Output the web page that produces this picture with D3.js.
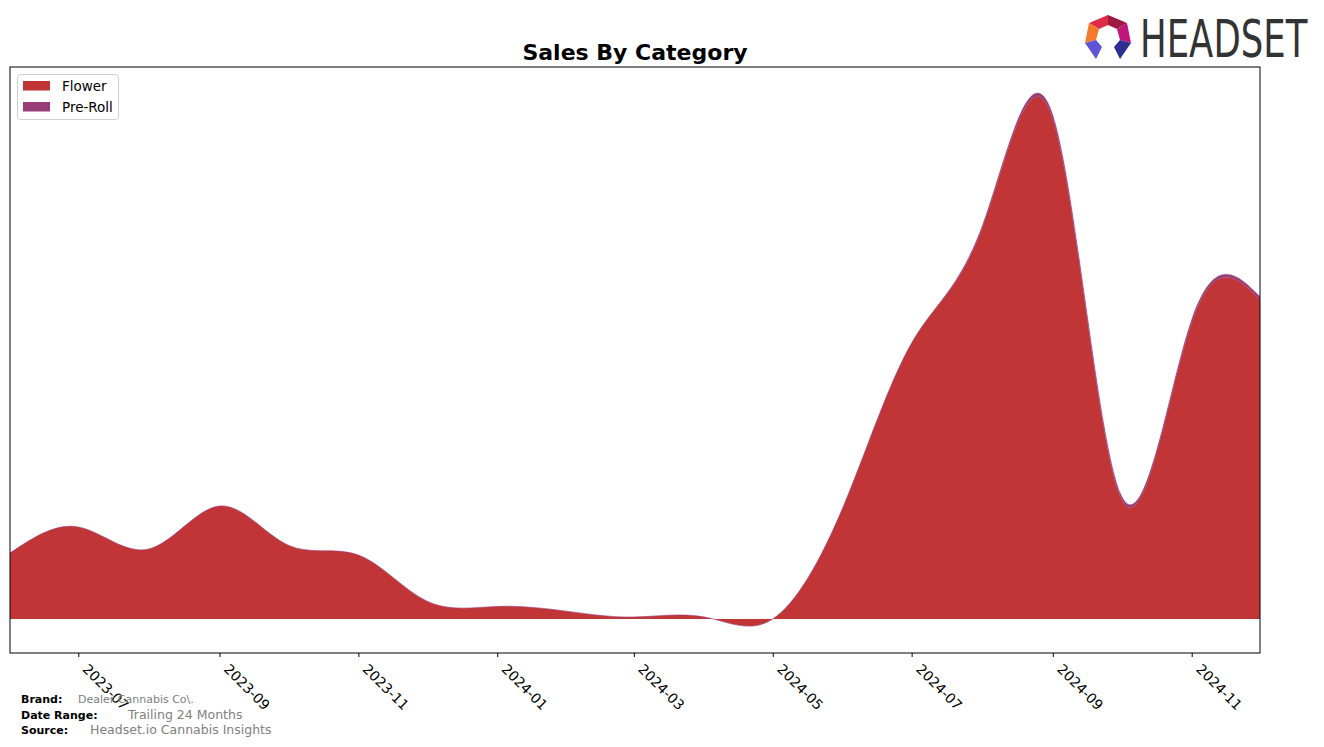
<!DOCTYPE html>
<html>
<head>
<meta charset="utf-8">
<script src="https://cdn.jsdelivr.net/npm/d3@7"></script>
<style>
  body { margin: 0; background: #fff; }
  svg { display: block; font-family: "DejaVu Sans", sans-serif; }
</style>
</head>
<body>
<svg id="chart" width="1324" height="747"></svg>
<script>
// ---- data ----
const months = ["2023-06","2023-07","2023-08","2023-09","2023-10","2023-11","2023-12",
                "2024-01","2024-02","2024-03","2024-04","2024-05","2024-06","2024-07",
                "2024-08","2024-09","2024-10","2024-11","2024-12"];
const flower = [66, 92, 70, 113, 74, 64, 18, 12.6, 7.6, 2, 2, 0, 112.6, 276, 391, 500, 121, 296.5, 319.5];
const preRoll = [0, 0, 0, 0, 0, 0, 0, 0, 0, 0, 0, 0, 0, 0, 2, 4, 3, 3, 3];
const categories = ["Flower", "Pre-Roll"];
const colors = ["#c13537", "#983e78"];
const tickMonths = ["2023-07","2023-09","2023-11","2024-01","2024-03","2024-05","2024-07","2024-09","2024-11"];

const svg = d3.select("#chart");
const parse = d3.timeParse("%Y-%m");
const rows = months.map((m, i) => ({date: parse(m), "Flower": flower[i], "Pre-Roll": preRoll[i]}));

const pL = 10, pR = 1260, pT = 67, pB = 653;
const x = d3.scaleTime().domain([parse(months[0]), parse(months[months.length-1])]).range([pL, pR]);
const y = d3.scaleLinear().domain([-34, 552]).range([pB, pT]);

const stack = d3.stack().keys(categories);
const series = stack(rows);

const area = d3.area()
  .x(d => x(d.data.date))
  .y0(d => y(d[0]))
  .y1(d => y(d[1]))
  .curve(d3.curveNatural);

svg.append("defs").append("clipPath").attr("id", "clip")
  .append("rect").attr("x", pL).attr("y", pT).attr("width", pR-pL).attr("height", pB-pT);

const g = svg.append("g").attr("clip-path", "url(#clip)");
g.selectAll("path.layer").data(series).join("path")
  .attr("class", "layer")
  .attr("fill", (d, i) => colors[i])
  .attr("stroke", (d, i) => i === 1 ? colors[1] : "none")
  .attr("stroke-width", 0.6)
  .attr("stroke-opacity", 0.6)
  .attr("d", area);

// frame
svg.append("rect").attr("x", pL).attr("y", pT).attr("width", pR-pL).attr("height", pB-pT)
  .attr("fill", "none").attr("stroke", "#000").attr("stroke-width", 1);

// x axis
const xAxis = d3.axisBottom(x)
  .tickValues(tickMonths.map(parse))
  .tickFormat(d3.timeFormat("%Y-%m"))
  .tickSize(4).tickPadding(3);
const ax = svg.append("g").attr("transform", `translate(0,${pB})`).call(xAxis);
ax.select(".domain").remove();
ax.selectAll(".tick line").attr("stroke", "#000");
ax.selectAll(".tick text")
  .attr("font-family", "DejaVu Sans, sans-serif")
  .attr("font-size", 13.9)
  .attr("fill", "#000")
  .attr("text-anchor", "start")
  .attr("dy", null)
  .attr("y", 0)
  .attr("transform", "translate(3,17) rotate(45)");

// title
svg.append("text").attr("x", 635).attr("y", 60).attr("text-anchor", "middle")
  .attr("font-size", 22).attr("font-weight", "bold").attr("fill", "#000")
  .text("Sales By Category");

// legend
const lg = svg.append("g");
lg.append("rect").attr("x", 17.5).attr("y", 74.5).attr("width", 101).attr("height", 45)
  .attr("rx", 3).attr("fill", "#fff").attr("fill-opacity", 0.8).attr("stroke", "#d0d0d0");
categories.forEach((c, i) => {
  lg.append("rect").attr("x", 23).attr("y", 81 + i*21).attr("width", 27).attr("height", 9.5).attr("fill", colors[i]);
  lg.append("text").attr("x", 62).attr("y", 91 + i*21).attr("font-size", 13.5).attr("fill", "#000").text(c);
});

// footer
const foot = [
  {label: "Brand:", value: "Dealer Cannabis Co\\.", y: 703, vx: 78, vs: 11},
  {label: "Date Range:", value: "Trailing 24 Months", y: 719, vx: 128, vs: 12.5},
  {label: "Source:", value: "Headset.io Cannabis Insights", y: 734, vx: 90, vs: 12.5}
];
foot.forEach(f => {
  svg.append("text").attr("x", 21).attr("y", f.y).attr("font-size", 11).attr("font-weight", "bold").attr("fill", "#000").text(f.label);
  svg.append("text").attr("x", f.vx).attr("y", f.y).attr("font-size", f.vs).attr("fill", "#808080").text(f.value);
});

// logo
const logo = svg.append("g");
const P = {A:[1108,15],B:[1127,23],C:[1131,43],D:[1120,59],E:[1114,47],F:[1120,40],G:[1117,29],H:[1108,25],
           I:[1099,29],J:[1096,40],K:[1102,47],L:[1096,59],M:[1085,43],N:[1089,23]};
const facets = [
  {pts:"NAHI", c:"#dd2c43"},
  {pts:"ABGH", c:"#9c1a3f"},
  {pts:"BCFG", c:"#c0177a"},
  {pts:"NIJM", c:"#f47b2a"},
  {pts:"MJKL", c:"#5d55d6"},
  {pts:"CFED", c:"#2c2f91"}
];
facets.forEach(f => {
  logo.append("polygon").attr("points", f.pts.split("").map(k => P[k].join(",")).join(" ")).attr("fill", f.c);
});
logo.append("text").attr("transform", "translate(1140,57) scale(1,1.45)")
  .attr("font-family", "DejaVu Sans, sans-serif")
  .attr("font-size", 35.5).attr("fill", "#333")
  .text("HEADSET");
</script>
</body>
</html>
